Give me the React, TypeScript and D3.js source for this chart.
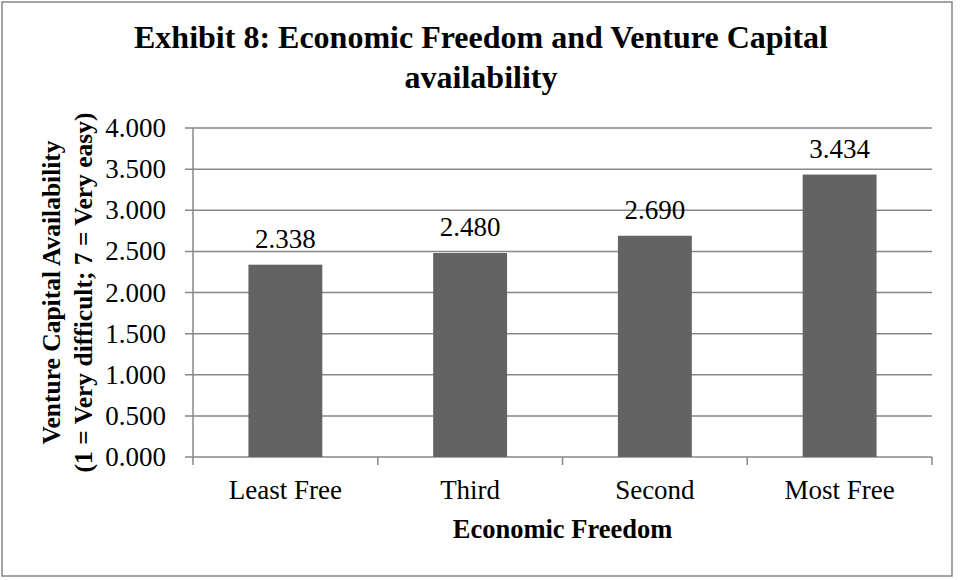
import React from "react";
import * as d3 from "d3";

const categories = ["Least Free", "Third", "Second", "Most Free"];
const values = [2.338, 2.48, 2.69, 3.434];
const yTicks = [0, 0.5, 1, 1.5, 2, 2.5, 3, 3.5, 4];
const titleLines = ["Exhibit 8: Economic Freedom and Venture Capital", "availability"];
const yTitleLines = ["Venture Capital Availability", "(1 = Very difficult; 7 = Very easy)"];
const xTitle = "Economic Freedom";

const W = 961;
const H = 580;
const plot = { left: 193, right: 932, top: 128, bottom: 457 };
const grid = "#878787";
const barColor = "#636363";
const tickFont = "'Liberation Serif', serif";
const boldFont = "'Liberation Serif', 'Times New Roman', serif";

export default function App() {
  const x = d3
    .scaleBand<string>()
    .domain(categories)
    .range([plot.left, plot.right])
    .paddingInner(0.6)
    .paddingOuter(0.3);
  const band = d3.scaleBand<string>().domain(categories).range([plot.left, plot.right]);
  const y = d3.scaleLinear().domain([0, 4]).range([plot.bottom, plot.top]);
  const fmt = d3.format(".3f");
  const boundaries = [...categories.map((c) => band(c) as number), plot.right];

  return (
    <svg width={W} height={H} style={{ position: "absolute", left: 0, top: 0, background: "#fff" }}>
      <rect x={2} y={2} width={950} height={574} fill="#fff" stroke={grid} strokeWidth={1.5} />
      {titleLines.map((t, i) => (
        <text
          key={t}
          x={481}
          y={48 + i * 40}
          textAnchor="middle"
          fontFamily={boldFont}
          fontWeight="bold"
          fontSize={32}
          fill="#000"
        >
          {t}
        </text>
      ))}
      {yTicks.map((t) => (
        <g key={t}>
          <line x1={plot.left - 8} x2={plot.right} y1={y(t)} y2={y(t)} stroke={grid} strokeWidth={1.5} />
          <text x={166} y={y(t) + 9} textAnchor="end" fontFamily={tickFont} fontSize={27} fill="#000">
            {fmt(t)}
          </text>
        </g>
      ))}
      <line x1={plot.left} x2={plot.left} y1={plot.top} y2={plot.bottom} stroke={grid} strokeWidth={1.5} />
      {boundaries.map((b, i) => (
        <line key={i} x1={b} x2={b} y1={plot.bottom} y2={plot.bottom + 8} stroke={grid} strokeWidth={1.5} />
      ))}
      {categories.map((c, i) => (
        <g key={c}>
          <rect
            x={x(c)}
            y={y(values[i])}
            width={x.bandwidth()}
            height={plot.bottom - y(values[i])}
            fill={barColor}
          />
          <text
            x={(x(c) as number) + x.bandwidth() / 2}
            y={y(values[i]) - 17}
            textAnchor="middle"
            fontFamily={tickFont}
            fontSize={27}
            fill="#000"
          >
            {fmt(values[i])}
          </text>
          <text
            x={(band(c) as number) + band.bandwidth() / 2}
            y={499}
            textAnchor="middle"
            fontFamily={tickFont}
            fontSize={27}
            fill="#000"
          >
            {c}
          </text>
        </g>
      ))}
      <text
        x={(plot.left + plot.right) / 2}
        y={538}
        textAnchor="middle"
        fontFamily={boldFont}
        fontWeight="bold"
        fontSize={26.5}
        fill="#000"
      >
        {xTitle}
      </text>
      {yTitleLines.map((t, i) => (
        <text
          key={t}
          transform={`translate(${60 + i * 32}, ${(plot.top + plot.bottom) / 2}) rotate(-90)`}
          textAnchor="middle"
          fontFamily={boldFont}
          fontWeight="bold"
          fontSize={25.5}
          fill="#000"
        >
          {t}
        </text>
      ))}
    </svg>
  );
}
